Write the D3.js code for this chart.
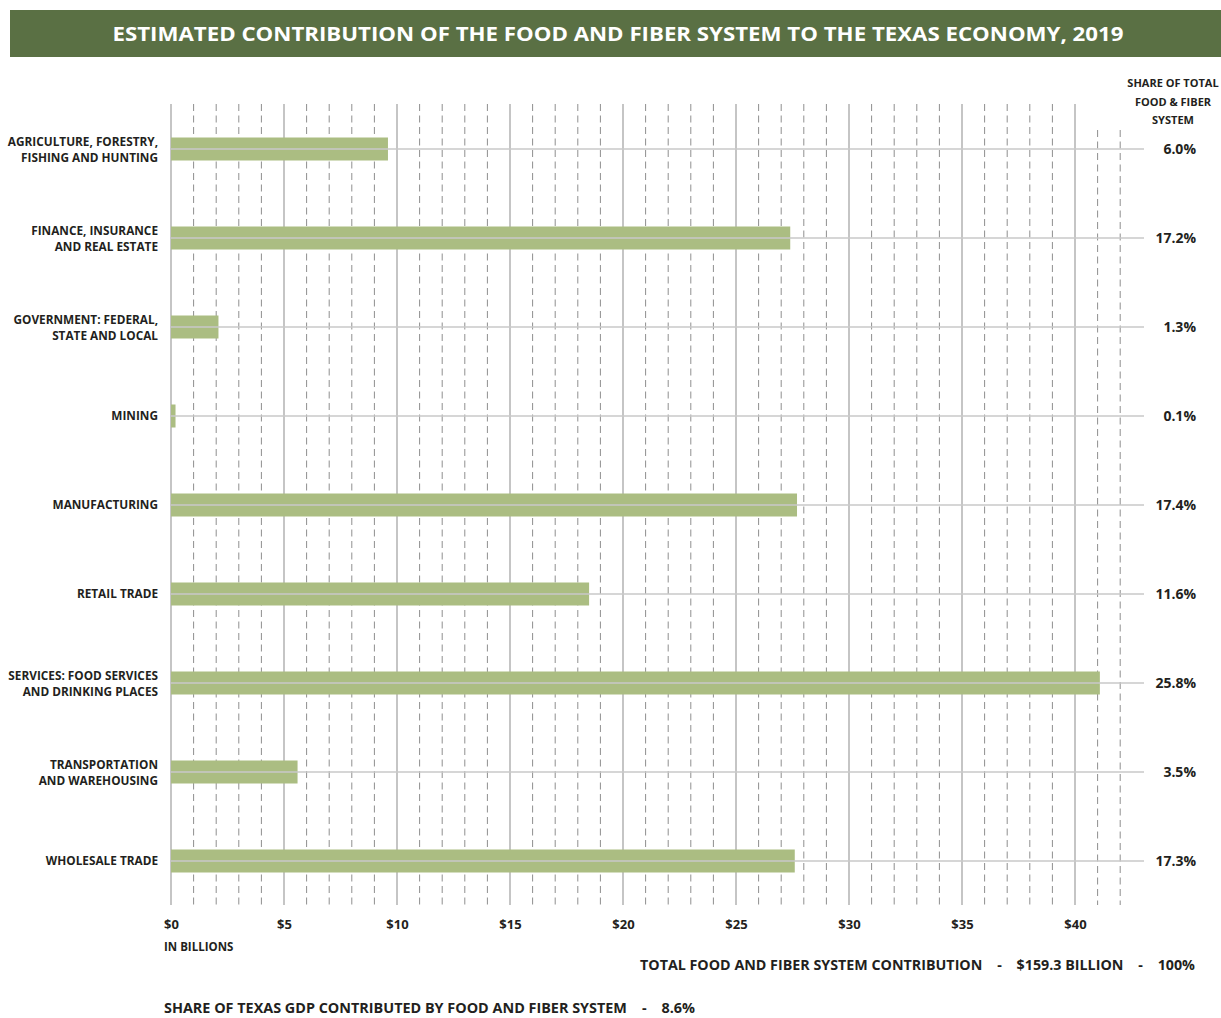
<!DOCTYPE html>
<html><head><meta charset="utf-8">
<script src="https://cdn.jsdelivr.net/npm/d3@7"></script>
<style>
body{margin:0;background:#fff;}
text{font-family:"Open Sans","Noto Sans",sans-serif;fill:#231f20;}
</style></head>
<body><svg id="c" width="1221" height="1018"></svg>
<script>
const categories = [
  ["AGRICULTURE, FORESTRY,","FISHING AND HUNTING"],
  ["FINANCE, INSURANCE","AND REAL ESTATE"],
  ["GOVERNMENT: FEDERAL,","STATE AND LOCAL"],
  ["MINING"],
  ["MANUFACTURING"],
  ["RETAIL TRADE"],
  ["SERVICES: FOOD SERVICES","AND DRINKING PLACES"],
  ["TRANSPORTATION","AND WAREHOUSING"],
  ["WHOLESALE TRADE"]
];
const values = [9.6, 27.4, 2.1, 0.2, 27.7, 18.5, 41.1, 5.6, 27.6];
const shares = ["6.0%","17.2%","1.3%","0.1%","17.4%","11.6%","25.8%","3.5%","17.3%"];
const majorTicks = [0,5,10,15,20,25,30,35,40];
const minorTicks = d3.range(0,43).filter(d => d % 5 !== 0);

const svg = d3.select("#c");
const x = d3.scaleLinear().domain([0,40]).range([171,1075]);
const y = d3.scalePoint().domain(d3.range(categories.length)).range([149,861]);
const gridTop = 104, gridBottom = 905;

// title
svg.append("rect").attr("x",10).attr("y",10).attr("width",1211).attr("height",47).attr("fill","#5a7044");
svg.append("text").attr("x",618).attr("y",41).attr("text-anchor","middle")
  .attr("textLength",1011).attr("lengthAdjust","spacingAndGlyphs")
  .style("font-size","20px").style("font-weight","700").style("fill","#fff")
  .text("ESTIMATED CONTRIBUTION OF THE FOOD AND FIBER SYSTEM TO THE TEXAS ECONOMY, 2019");

// grid
svg.append("g").selectAll("line").data(minorTicks).join("line")
  .attr("x1",d=>x(d)).attr("x2",d=>x(d))
  .attr("y1",d=> d>40 ? 130 : gridTop).attr("y2",gridBottom)
  .attr("stroke","#8f8f8f").attr("stroke-width",1).attr("stroke-dasharray","7,4.5");
svg.append("g").selectAll("line").data(majorTicks).join("line")
  .attr("x1",d=>x(d)).attr("x2",d=>x(d))
  .attr("y1",gridTop).attr("y2",gridBottom)
  .attr("stroke","#a6a6a6").attr("stroke-width",1.3);

// bars
svg.append("g").selectAll("rect").data(values).join("rect")
  .attr("x",x(0)).attr("y",(d,i)=>y(i)-11.5)
  .attr("width",d=>x(d)-x(0)).attr("height",23)
  .attr("fill","#abbd82");

// row lines
svg.append("g").selectAll("line").data(values).join("line")
  .attr("x1",x(0)).attr("x2",1144)
  .attr("y1",(d,i)=>y(i)).attr("y2",(d,i)=>y(i))
  .attr("stroke","#c8c8c8").attr("stroke-width",1.5);

// left labels
const lab = svg.append("g").selectAll("text").data(categories).join("text")
  .attr("text-anchor","end").style("font-size","11.8px").style("font-weight","700")
  .attr("transform",(d,i)=>`translate(158,${y(i) + (d.length===1 ? 4 : -3)})`);
lab.selectAll("tspan").data(d=>d).join("tspan")
  .attr("x",0).attr("dy",(d,j)=> j===0?0:16).text(d=>d);

// right shares
svg.append("g").selectAll("text").data(shares).join("text")
  .attr("x",1196).attr("y",(d,i)=>y(i)+5).attr("text-anchor","end")
  .style("font-size","14px").style("font-weight","700").text(d=>d);

// share header
const hdr = ["SHARE OF TOTAL","FOOD & FIBER","SYSTEM"];
svg.append("g").selectAll("text").data(hdr).join("text")
  .attr("x",1173).attr("y",(d,i)=>87+i*18.5).attr("text-anchor","middle")
  .style("font-size","11px").style("font-weight","700").text(d=>d);

// axis
const axis = d3.axisBottom(x).tickValues(majorTicks).tickFormat(d=>"$"+d).tickSize(0).tickPadding(0);
const ag = svg.append("g").attr("transform","translate(0,929)").call(axis);
ag.select(".domain").remove();
ag.selectAll("text").attr("dy",0).style("font-size","13px").style("font-weight","700")
  .style("font-family",'"Open Sans","Noto Sans",sans-serif').attr("fill","#231f20");

svg.append("text").attr("x",164).attr("y",951).style("font-size","11.5px").style("font-weight","700").text("IN BILLIONS");

// footer
svg.append("text").attr("x",640).attr("y",970).attr("textLength",555).attr("lengthAdjust","spacingAndGlyphs")
  .style("font-size","13.5px").style("font-weight","700")
  .text("TOTAL FOOD AND FIBER SYSTEM CONTRIBUTION    -    $159.3 BILLION    -    100%")
  .style("white-space","pre");
svg.append("text").attr("x",164).attr("y",1013).attr("textLength",531).attr("lengthAdjust","spacingAndGlyphs")
  .style("font-size","13.5px").style("font-weight","700").style("white-space","pre")
  .text("SHARE OF TEXAS GDP CONTRIBUTED BY FOOD AND FIBER SYSTEM    -    8.6%");
</script></body></html>
